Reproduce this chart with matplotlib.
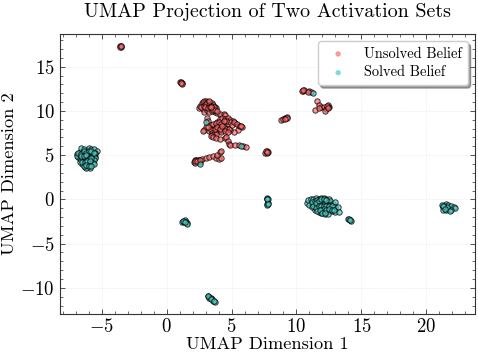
import matplotlib
matplotlib.use("Agg")
import matplotlib.pyplot as plt
from matplotlib.ticker import AutoMinorLocator

plt.rcParams["font.family"] = ["cmr10", "DejaVu Serif"]
plt.rcParams["mathtext.fontset"] = "cm"
plt.rcParams["axes.formatter.use_mathtext"] = True
plt.rcParams["axes.unicode_minus"] = True

series_names = ["Unsolved Belief", "Solved Belief"]
title = "UMAP Projection of Two Activation Sets"
x_label = "UMAP Dimension 1"
y_label = "UMAP Dimension 2"

# values, cluster by cluster
unsolved_x = [
    -3.6, -3.55, -3.5, -3.6, -3.55,
    1.05, 1.1, 1.15, 1.2, 1.1,
    2.5, 2.6, 2.7, 2.8, 2.9, 3.0, 3.1, 3.2, 3.3, 3.4, 3.5, 3.6, 3.7, 3.8, 2.8, 3.0, 3.2, 3.4, 3.6, 2.9, 3.1, 3.3, 3.5, 3.7, 3.9, 4.1, 4.4, 4.5,
    2.65, 2.85, 3.05, 3.25, 3.45, 3.65, 2.95, 3.15, 3.35, 3.55, 3.75, 3.25, 3.45, 3.85,
    3.1, 3.2, 3.4, 3.0, 2.9, 2.8, 3.3, 3.5, 3.7, 3.9, 4.1, 4.3, 4.5, 4.7, 4.9, 5.1, 5.3, 5.6, 5.8, 5.5, 5.2, 4.9, 4.6, 4.4, 4.2, 4.0, 3.8, 3.6, 3.4, 3.2, 3.5, 3.7, 3.9, 4.1, 4.3, 4.5, 4.7, 4.9, 4.6, 4.2, 3.8, 3.5,
    3.6, 3.8, 4.0, 4.2, 4.4, 4.6, 4.8, 5.0, 5.2, 5.4, 3.7, 3.9, 4.1, 4.3, 4.5, 4.7, 5.65, 5.75,
    3.4, 3.6, 3.8, 4.1, 4.5, 4.6, 4.7, 4.8, 4.9, 5.3, 5.6, 5.9, 6.1,
    2.1, 2.2, 2.3, 2.4, 2.5, 2.6, 2.7, 2.2, 2.4, 3.0, 3.3, 3.6, 3.8, 4.0, 4.2, 3.9, 4.1, 4.2, 2.15, 2.35, 2.55,
    7.6, 7.7, 7.8, 7.7, 7.65, 7.75,
    8.8, 9.0, 9.1, 9.2, 9.3, 9.25, 9.15,
    10.5, 10.6, 10.4, 11.0, 11.1, 10.9, 10.5,
    11.6, 11.7, 11.9, 12.1, 12.3, 12.5, 12.4, 12.2, 12.4, 11.4, 11.7, 12.35, 12.45,
]
unsolved_y = [
    17.3, 17.35, 17.25, 17.2, 17.3,
    13.3, 13.25, 13.15, 13.1, 13.2,
    10.3, 10.6, 10.9, 11.0, 11.1, 11.15, 11.0, 10.9, 11.05, 10.8, 10.95, 10.7, 10.5, 10.3, 10.2, 10.4, 10.6, 10.3, 10.2, 9.9, 10.1, 9.9, 10.0, 9.9, 9.8, 9.7, 9.6, 9.5,
    10.4, 10.6, 10.8, 10.7, 10.6, 10.4, 10.5, 10.3, 10.5, 10.1, 10.1, 11.1, 10.4, 10.0,
    9.2, 8.9, 8.4, 8.2, 7.8, 7.7, 7.7, 8.0, 8.3, 8.7, 9.1, 9.2, 9.1, 9.2, 9.0, 8.9, 8.6, 8.3, 8.2, 7.9, 7.6, 7.8, 8.1, 8.4, 8.6, 8.3, 8.1, 7.7, 7.9, 8.2, 7.5, 7.6, 7.8, 7.7, 7.9, 8.2, 8.5, 8.7, 8.9, 7.6, 7.4, 7.3,
    8.5, 8.6, 8.8, 8.5, 8.9, 8.0, 8.0, 8.4, 8.7, 8.5, 8.0, 8.2, 8.0, 8.3, 7.7, 7.6, 8.3, 8.25,
    7.2, 7.0, 6.9, 6.8, 6.9, 7.0, 6.6, 6.3, 6.1, 6.2, 6.2, 6.0, 5.9,
    4.2, 4.4, 4.5, 4.3, 4.5, 4.2, 4.6, 4.1, 4.4, 4.7, 4.8, 4.9, 4.7, 4.6, 4.7, 5.0, 5.4, 5.5, 4.3, 4.35, 4.4,
    5.3, 5.5, 5.4, 5.2, 5.45, 5.35,
    9.0, 9.05, 9.2, 9.25, 9.3, 9.2, 9.1,
    12.3, 12.4, 12.25, 12.2, 12.1, 12.15, 12.35,
    11.1, 10.7, 10.5, 10.4, 10.2, 10.5, 10.7, 10.0, 10.4, 10.1, 10.3, 10.6, 10.3,
]
solved_x = [
    -6.9, -6.8, -6.7, -6.6, -6.4, -6.2, -6.0, -5.8, -5.6, -5.4, -5.5, -6.9, -6.7, -6.5, -6.3, -6.1, -5.9, -5.7, -5.5, -5.5, -6.7, -6.5, -6.3, -6.1, -5.9, -5.7, -5.5, -6.6, -6.4, -6.2, -6.0, -5.8, -5.6, -6.5, -6.3, -6.1, -5.9, -5.7, -6.3, -6.1, -5.9, -6.7, -5.6, -6.2,
    -6.8, -6.6, -6.4, -6.2, -6.0, -5.8, -5.6, -6.6, -6.4, -6.2, -6.0, -5.8, -6.5, -6.3, -6.1, -5.9, -6.4, -6.2, -6.0, -5.8,
    10.8, 10.9, 11.1, 11.3, 11.5, 11.7, 11.9, 12.1, 12.3, 12.5, 11.0, 11.2, 11.4, 11.6, 11.8, 12.0, 12.2, 12.4, 12.6, 11.2, 11.4, 11.6, 11.8, 12.0, 12.2, 12.4, 12.6, 12.8, 13.0, 11.4, 11.6, 11.8, 12.0, 12.2, 12.4, 12.6, 12.8, 13.0, 13.2, 11.7, 11.9, 12.1, 12.3, 12.5, 12.7, 13.0, 13.3, 12.2, 12.4,
    11.3, 11.5, 11.7, 11.9, 12.1, 12.3, 11.5, 11.7, 11.9, 12.1, 12.3, 12.5, 12.7, 11.9, 12.1, 12.3, 12.5, 12.7, 12.9, 11.6, 11.8, 12.0, 12.2,
    14.0, 14.1, 14.2, 14.05, 14.15,
    21.2, 21.3, 21.5, 21.7, 21.9, 22.1, 22.2, 21.3, 21.5, 21.7, 21.9, 21.4, 21.6, 21.8, 21.25, 21.45,
    7.7, 7.75, 7.8, 7.7, 7.75, 7.8, 7.72, 7.78,
    1.2, 1.3, 1.4, 1.5, 1.6, 1.35, 1.55, 1.25, 1.45,
    3.15, 3.25, 3.3, 3.4, 3.5, 3.6, 3.7, 3.2, 3.45, 3.65,
    3.0, 2.6, 5.7, 11.3,
]
solved_y = [
    5.1, 4.8, 5.4, 5.8, 5.7, 5.5, 5.8, 5.7, 5.7, 5.5, 5.1, 4.9, 5.0, 5.2, 5.1, 5.3, 5.4, 5.2, 5.2, 4.8, 4.6, 4.7, 4.8, 4.9, 4.7, 4.9, 4.7, 4.4, 4.3, 4.5, 4.4, 4.5, 4.4, 4.0, 3.9, 4.1, 4.0, 4.1, 3.7, 3.7, 3.6, 4.2, 4.0, 3.5,
    5.3, 5.1, 5.5, 5.3, 5.5, 5.5, 5.3, 4.9, 4.9, 5.0, 4.6, 4.7, 4.2, 4.2, 4.3, 4.3, 3.8, 3.9, 3.8, 3.8,
    -0.4, -0.1, 0.0, 0.1, 0.2, 0.1, 0.15, 0.2, 0.1, 0.0, -0.6, -0.3, -0.2, -0.1, -0.3, -0.2, -0.1, -0.3, -0.2, -0.9, -0.7, -0.5, -0.6, -0.5, -0.4, -0.6, -0.6, -0.5, -0.3, -1.2, -1.1, -0.9, -1.0, -0.9, -0.8, -0.9, -1.0, -0.9, -0.9, -1.4, -1.5, -1.3, -1.4, -1.3, -1.3, -1.4, -1.4, -1.7, -1.6,
    -0.8, -0.4, -0.2, 0.0, 0.05, -0.05, -1.0, -0.7, -0.8, -0.7, -0.7, -0.8, -0.7, -1.2, -1.1, -1.15, -1.1, -1.15, -1.2, -1.3, -1.25, -1.55, -1.5,
    -2.2, -2.3, -2.4, -2.25, -2.35,
    -0.6, -0.9, -0.5, -0.6, -0.8, -0.9, -1.0, -1.2, -1.2, -1.1, -1.2, -0.8, -0.9, -1.3, -0.75, -1.05,
    0.2, 0.0, 0.1, -0.5, -0.6, -0.4, 0.05, -0.55,
    -2.6, -2.4, -2.3, -2.5, -2.7, -2.6, -2.75, -2.45, -2.55,
    -10.9, -11.0, -11.15, -11.2, -11.3, -11.5, -11.55, -10.95, -11.25, -11.45,
    8.8, 4.0, 6.0, 12.0,
]

fig = plt.figure(figsize=(4.78, 3.56), dpi=100)
ax = fig.add_axes([59.5 / 478, 1 - 313.5 / 356, 415.5 / 478, 279.5 / 356])

edge = (0, 0, 0, 0.75)
ax.scatter(unsolved_x, unsolved_y, s=15, facecolors=(1.0, 0.42, 0.42, 0.7), edgecolors=edge, linewidths=0.7, label=series_names[0], zorder=3)
ax.scatter(solved_x, solved_y, s=15, facecolors=(0.306, 0.804, 0.769, 0.7), edgecolors=edge, linewidths=0.7, label=series_names[1], zorder=3)

ax.set_xlim(-8.25, 23.75)
ax.set_ylim(-12.9, 18.7)
ax.set_xticks([-5, 0, 5, 10, 15, 20])
ax.set_yticks([-10, -5, 0, 5, 10, 15])
ax.xaxis.set_minor_locator(AutoMinorLocator(5))
ax.yaxis.set_minor_locator(AutoMinorLocator(5))
ax.tick_params(which="major", direction="in", length=3.5, width=0.6, color="#333333", top=True, right=True, labelsize=13.5, pad=3.5)
ax.tick_params(which="minor", direction="in", length=2, width=0.5, color="#333333", top=True, right=True)
ax.grid(True, color="#cccccc", alpha=0.4, linestyle=":", linewidth=0.7)
for spine in ax.spines.values():
    spine.set_linewidth(0.8)
    spine.set_color("#333333")

ax.set_xlabel(x_label, fontsize=13.2, labelpad=0.5)
ax.set_ylabel(y_label, fontsize=13.2)
ax.yaxis.set_label_coords(-42.5 / 415.5, 0.5)
ax.set_title(title, fontsize=14.4, pad=12.5)
legend = ax.legend(loc="upper right", fontsize=10.4, frameon=True, fancybox=True, shadow=True, framealpha=1, edgecolor="#cccccc", borderaxespad=0.5, labelspacing=0.35)
for handle in legend.legend_handles:
    handle.set_edgecolor("none")
    handle.set_alpha(0.7)

plt.savefig("out.png", dpi=100)
